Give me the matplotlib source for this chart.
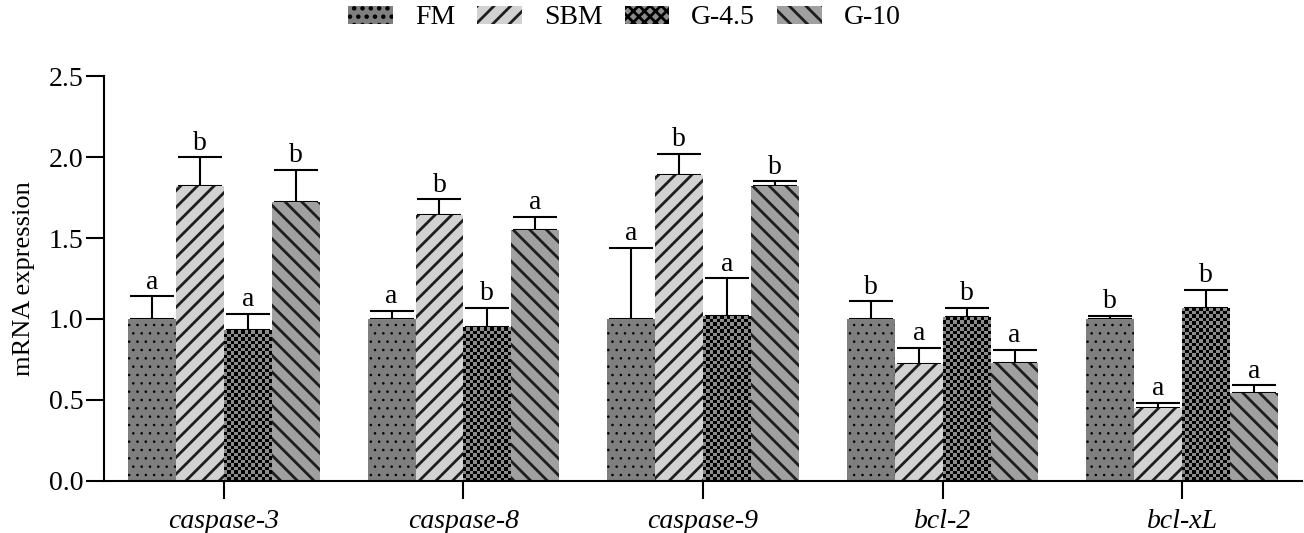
import numpy as np
import matplotlib
matplotlib.use("Agg")
import matplotlib.pyplot as plt
from matplotlib.colors import ListedColormap

genes = ["caspase-3", "caspase-8", "caspase-9", "bcl-2", "bcl-xL"]
groups = ["FM", "SBM", "G-4.5", "G-10"]

# mean values per group (one entry per gene)
fm = [1.00, 1.00, 1.00, 1.00, 1.00]
sbm = [1.82, 1.64, 1.89, 0.72, 0.45]
g45 = [0.93, 0.95, 1.02, 1.01, 1.07]
g10 = [1.72, 1.55, 1.82, 0.73, 0.54]

# standard errors (upper only)
fm_err = [0.14, 0.05, 0.44, 0.11, 0.02]
sbm_err = [0.18, 0.10, 0.13, 0.10, 0.03]
g45_err = [0.10, 0.12, 0.23, 0.06, 0.11]
g10_err = [0.20, 0.08, 0.03, 0.08, 0.05]

# significance letters
fm_sig = ["a", "a", "a", "b", "b"]
sbm_sig = ["b", "b", "b", "a", "a"]
g45_sig = ["a", "b", "a", "b", "b"]
g10_sig = ["b", "a", "b", "a", "a"]

plt.rcParams['font.family'] = ['Liberation Serif', 'DejaVu Serif']

fig = plt.figure(figsize=(13.04, 5.33), dpi=100)
ax = fig.add_axes([0.0798, 0.098, 0.9187, 0.759])
ax.set_xlim(-0.5, 4.5)
ax.set_ylim(0, 2.5)

x = np.arange(len(genes))
w = 0.2
# facecolor, hatch, hatch colour, hatch linewidth
styles = [
    ("#7f7f7f", "..", "black", 0.6),
    ("#d2d2d2", "//", "#1e1e1e", 2.0),
    ("#8c8c8c", "xxx", "black", 2.0),
    ("#a0a0a0", "\\\\", "#1e1e1e", 2.0),
]
series = [(fm, fm_err, fm_sig), (sbm, sbm_err, sbm_sig),
          (g45, g45_err, g45_sig), (g10, g10_err, g10_sig)]

checker_cmap = ListedColormap(["#8c8c8c", "black"])
sq = 3.5  # checker square size in pixels

for i, ((vals, errs, sigs), (fc, hatch, hc, hlw)) in enumerate(zip(series, styles)):
    plt.rcParams['hatch.linewidth'] = hlw
    pos = x + (i - 1.5) * w
    bars = ax.bar(pos, vals, w, color=fc, hatch=hatch, edgecolor=hc,
                  linewidth=0, label=groups[i], zorder=2)
    ax.errorbar(pos, vals, yerr=[np.zeros(len(vals)), errs], fmt='none',
                ecolor='black', elinewidth=1.5, capsize=16, capthick=1.5,
                zorder=1)
    for p, v, e, s in zip(pos, vals, errs, sigs):
        ax.text(p, v + e + 0.01, s, ha='center', va='bottom', fontsize=20)
    if groups[i] == "G-4.5":
        # checkerboard fill for this group
        for b in bars:
            x0, y0 = b.get_x(), b.get_y()
            x1, y1 = x0 + b.get_width(), y0 + b.get_height()
            p0 = ax.transData.transform((x0, y0))
            p1 = ax.transData.transform((x1, y1))
            nx = max(1, int(round((p1[0] - p0[0]) / sq)))
            ny = max(1, int(round((p1[1] - p0[1]) / sq)))
            grid = (np.add.outer(np.arange(ny), np.arange(nx)) % 2)
            im = ax.imshow(grid, cmap=checker_cmap, extent=[x0, x1, y0, y1],
                           origin='lower', aspect='auto',
                           interpolation='nearest', zorder=2.1)
            im.set_clip_path(b)

ax.set_xlim(-0.5, 4.5)
ax.set_ylim(0, 2.5)
ax.set_yticks([0, 0.5, 1.0, 1.5, 2.0, 2.5])
ax.set_yticklabels(["0.0", "0.5", "1.0", "1.5", "2.0", "2.5"])
ax.set_xticks(x)
ax.set_xticklabels(genes, fontstyle='italic')
ax.set_ylabel("mRNA expression", fontsize=19)
ax.yaxis.set_label_coords(-0.058, 0.5)

for s in ["top", "right"]:
    ax.spines[s].set_visible(False)
for s in ["left", "bottom"]:
    ax.spines[s].set_linewidth(1.5)
ax.tick_params(axis='both', labelsize=20, width=1.5, length=13, direction='out')
ax.tick_params(axis='y', pad=2)
ax.tick_params(axis='x', pad=7)

fig.legend(loc='center', bbox_to_anchor=(624.5 / 1304, 1 - 18 / 533), ncol=4,
           frameon=False, fontsize=20, handlelength=1.6, handleheight=0.6,
           handletextpad=0.8, columnspacing=0.8)

fig.savefig("out.png", dpi=100)
